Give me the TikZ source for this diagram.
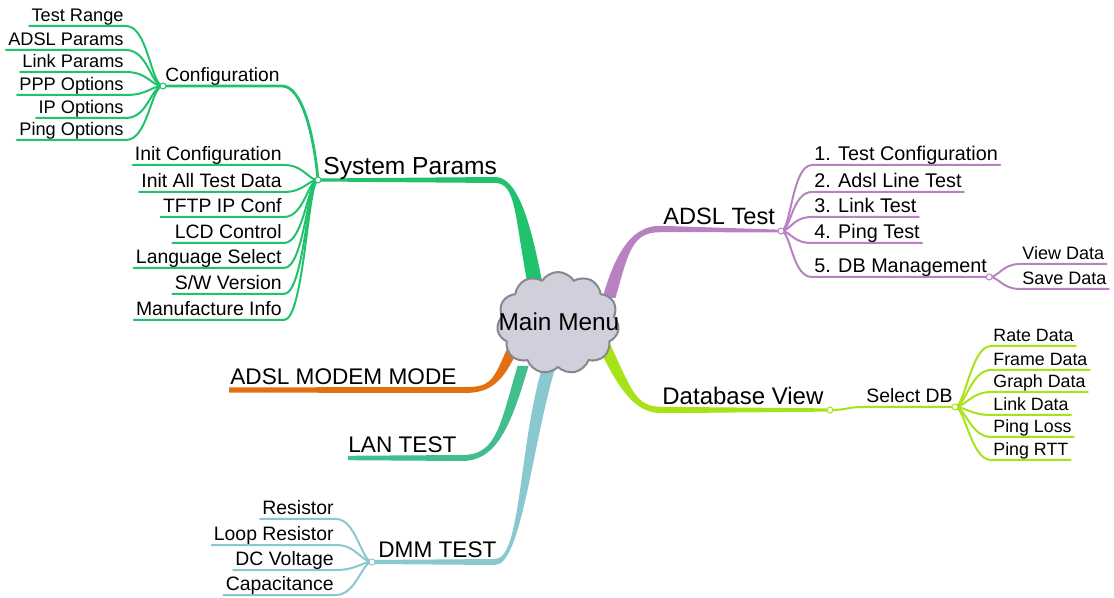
\documentclass[tikz,border=0pt]{standalone}
\usepackage{fontspec}
\setmainfont{Liberation Sans}
\usetikzlibrary{shapes.symbols,calc}
\definecolor{cSys}{RGB}{32,194,108}
\definecolor{cAd}{RGB}{184,130,194}
\definecolor{cDb}{RGB}{168,226,24}
\definecolor{cMod}{RGB}{226,112,16}
\definecolor{cLan}{RGB}{64,190,142}
\definecolor{cDmm}{RGB}{136,200,206}
\definecolor{cCloud}{RGB}{208,208,221}
\definecolor{cCloudB}{RGB}{135,135,140}
% tapered main branch: #1 colour, #2 start, #3 ctrl1, #4 ctrl2, #5 bend end, #6 junction, #7 half width at start (x), #8 half width at bend (y), #9 half width at junction (y)
\newcommand\taper[9][black]{%
  \fill[#1] ($(#2)+({#7},0)$) .. controls ($(#3)+({#7},0)$) and ($(#4)+(0,{#8})$) .. ($(#5)+(0,{#8})$)
    -- ($(#6)+(0,{#9})$) -- ($(#6)+(0,{-(#9)})$) -- ($(#5)+(0,{-(#8)})$)
    .. controls ($(#4)+(0,{-(#8)})$) and ($(#3)+({-(#7)},0)$) .. ($(#2)+({-(#7)},0)$) -- cycle;}
\begin{document}
\begin{tikzpicture}[x=0.5pt,y=-0.5pt,
  lbl/.style={font=\fontsize{#1}{#1}\selectfont, inner xsep=1pt, inner ysep=2pt, text depth=0pt},
  mlbl/.style={font=\fontsize{#1}{#1}\selectfont, inner sep=0pt, anchor=base west},
  conn/.style={line width=1pt, line cap=round},
  subc/.style={line width=1.4pt, line cap=round},
  jdot/.style={circle, fill=white, line width=0.5pt, inner sep=0pt, minimum size=3pt}]
\useasboundingbox (0,0) rectangle (1114,598);

% ---------- main branch geometry ----------
\coordinate (sysS) at (535,284);  \coordinate (sysC1) at (522,215);
\coordinate (sysC2) at (516,180); \coordinate (sysE) at (495,180);
\coordinate (sysJ) at (318,180);
\coordinate (adS) at (609,298);   \coordinate (adC1) at (622,252);
\coordinate (adC2) at (632,229);  \coordinate (adE) at (660,229);
\coordinate (adJ) at (781,231);
\coordinate (dbS) at (604,345);   \coordinate (dbC1) at (626,392);
\coordinate (dbC2) at (636,410);  \coordinate (dbE) at (662,410);
\coordinate (dbJ) at (830,410);
\coordinate (modS) at (512,350);  \coordinate (modC1) at (498,382);
\coordinate (modC2) at (490,390); \coordinate (modE) at (465,390);
\coordinate (modJ) at (229,390);
\coordinate (lanS) at (523,366);  \coordinate (lanC1) at (505,428);
\coordinate (lanC2) at (496,458); \coordinate (lanE) at (462,458);
\coordinate (lanJ) at (348,458);
\coordinate (dmmS) at (548,370);  \coordinate (dmmC1) at (525,450);
\coordinate (dmmC2) at (521,562); \coordinate (dmmE) at (495,562);
\coordinate (dmmJ) at (372,562);

\taper[cSys]{sysS}{sysC1}{sysC2}{sysE}{sysJ}{7.5}{-3}{-1.5}
\taper[cAd]{adS}{adC1}{adC2}{adE}{adJ}{6.5}{3.2}{1.3}
\taper[cDb]{dbS}{dbC1}{dbC2}{dbE}{dbJ}{-6.5}{3.2}{1.6}
\taper[cMod]{modS}{modC1}{modC2}{modE}{modJ}{-5.5}{-3}{-2.6}
\taper[cLan]{lanS}{lanC1}{lanC2}{lanE}{lanJ}{-5.5}{-3}{-2.2}
\taper[cDmm]{dmmS}{dmmC1}{dmmC2}{dmmE}{dmmJ}{-6.5}{-3}{-2}

% ---------- main labels ----------
\node[mlbl=12.3pt] (sysL) at (323,175) {System Params};
\node[mlbl=11.8pt] (adL) at (663,225) {ADSL Test};
\node[mlbl=12pt] (dbL) at (662,405) {Database View};
\node[mlbl=11.3pt] (modL) at (230,385) {ADSL MODEM MODE};
\node[mlbl=11.3pt] (lanL) at (348,453) {LAN TEST};
\node[mlbl=11.3pt] (dmmL) at (378,557) {DMM TEST};

% ---------- System Params subtree ----------
\begin{scope}[draw=cSys, color=cSys]
\node[lbl=9.6pt, anchor=south west, text=black] (conf) at (163,86) {Configuration};
\draw[subc] (conf.south west) -- (conf.south east) .. controls +(20,0) and +(-4,-45) .. (sysJ);
\foreach \n/\y/\t in {c1/26/Test Range, c2/50/ADSL Params, c3/72/Link Params, c4/95/PPP Options, c5/118/IP Options, c6/140/Ping Options}{
  \node[lbl=9.1pt, anchor=south east, text=black] (\n) at (126,\y) {\t};
  \draw[conn] (conf.south west) .. controls +(-12,0) and +(22,0) .. (\n.south east) -- (\n.south west);
}
\foreach \n/\y/\t in {s1/165/{Init Configuration}, s2/192/{Init All Test Data}, s3/217/{TFTP IP Conf}, s4/243/{LCD Control}, s5/268/{Language Select}, s6/294/{S/W Version}, s7/320/{Manufacture Info}}{
  \node[lbl=9.7pt, anchor=south east, text=black] (\n) at (284,\y) {\t};
  \draw[conn] (sysJ) .. controls +(-10,0) and +(20,0) .. (\n.south east) -- (\n.south west);
}
\node[jdot, draw=cSys] at (conf.south west) {};
\node[jdot, draw=cSys] at (sysJ) {};
\end{scope}

% ---------- ADSL Test subtree ----------
\begin{scope}[draw=cAd]
\foreach \n/\y/\t in {a1/165/1. Test Configuration, a2/192/2. Adsl Line Test, a3/217/3. Link Test, a4/243/4. Ping Test, a5/277/5. DB Management}{
  \node[lbl=9.9pt, anchor=south west] (\n) at (812,\y) {\t};
  \draw[conn] (adJ) .. controls +(10,0) and +(-20,0) .. (\n.south west) -- (\n.south east);
}
\foreach \n/\y/\t in {v1/264/View Data, v2/289/Save Data}{
  \node[lbl=9pt, anchor=south west] (\n) at (1020,\y) {\t};
  \draw[conn] (a5.south east) .. controls +(10,0) and +(-18,0) .. (\n.south west) -- (\n.south east);
}
\node[jdot, draw=cAd] at (adJ) {};
\node[jdot, draw=cAd] at (a5.south east) {};
\end{scope}

% ---------- Database View subtree ----------
\begin{scope}[draw=cDb]
\node[lbl=9.7pt, anchor=south west] (sel) at (864,407) {Select DB};
\draw[conn] (dbJ) .. controls +(18,0) and +(-18,0) .. (sel.south west) -- (sel.south east);
\foreach \n/\y/\t in {d1/346/Rate Data, d2/370/Frame Data, d3/392/Graph Data, d4/415/Link Data, d5/437/Ping Loss, d6/460/Ping RTT}{
  \node[lbl=8.9pt, anchor=south west] (\n) at (991,\y) {\t};
  \draw[conn] (sel.south east) .. controls +(10,0) and +(-20,0) .. (\n.south west) -- (\n.south east);
}
\node[jdot, draw=cDb] at (dbJ) {};
\node[jdot, draw=cDb] at (sel.south east) {};
\end{scope}

% ---------- DMM TEST subtree ----------
\begin{scope}[draw=cDmm]
\foreach \n/\y/\t in {m1/519/Resistor, m2/545/Loop Resistor, m3/570/DC Voltage, m4/595/Capacitance}{
  \node[lbl=9.7pt, anchor=south east] (\n) at (336,\y) {\t};
  \draw[conn] (dmmJ) .. controls +(-10,0) and +(20,0) .. (\n.south east) -- (\n.south west);
}
\node[jdot, draw=cDmm] at (dmmJ) {};
\end{scope}

% ---------- central cloud ----------
\node[cloud, cloud puffs=11, cloud puff arc=115, aspect=1.2, draw=cCloudB, fill=cCloud,
  line width=1pt, minimum width=61pt, minimum height=51pt, inner sep=0pt] (main) at (558,323) {};
\node[font=\fontsize{12.2pt}{14pt}\selectfont, inner sep=0pt] (mainL) at (559,322) {Main Menu};
\end{tikzpicture}
\end{document}
